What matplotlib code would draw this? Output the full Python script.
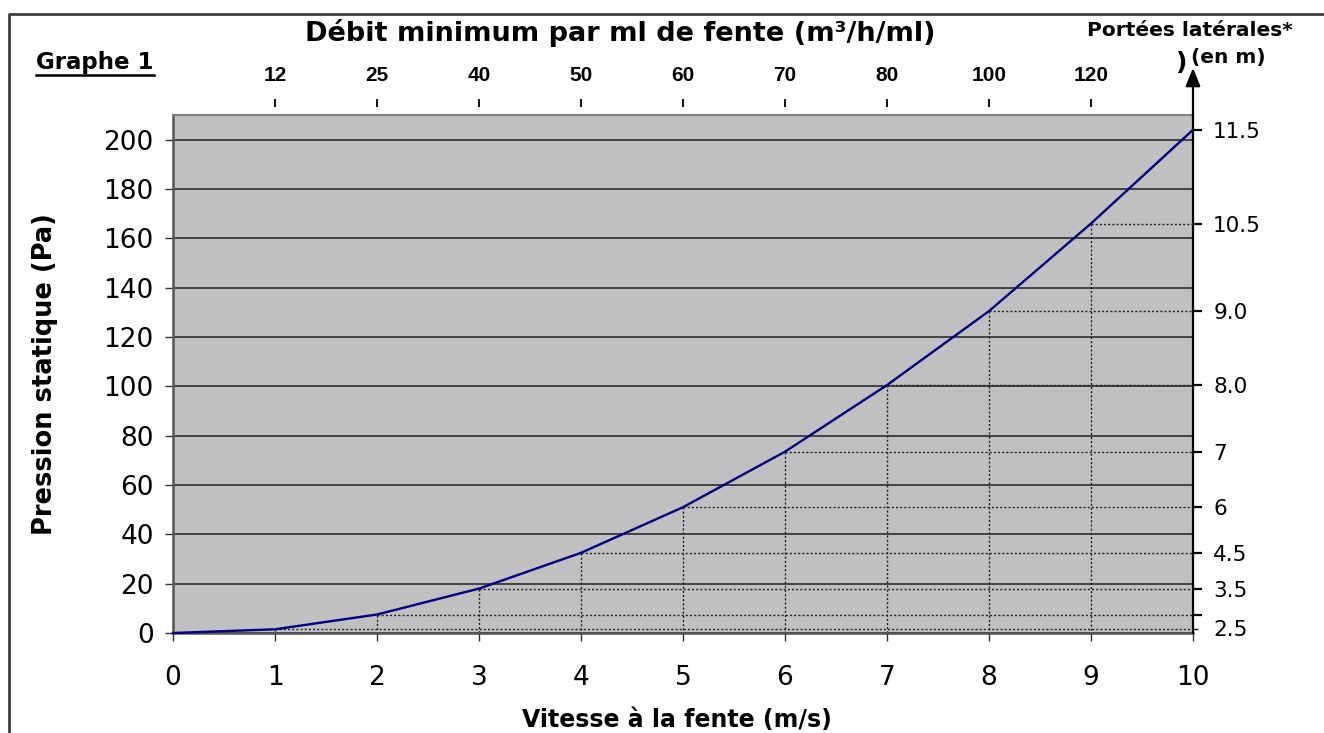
import matplotlib
matplotlib.use("Agg")
import matplotlib.pyplot as plt
from matplotlib.lines import Line2D
import matplotlib.transforms as mtransforms

# ---- data ----
vitesse = [0, 1, 2, 3, 4, 5, 6, 7, 8, 9, 10]                 # m/s
pression = [0, 1.5, 7.5, 18, 32.5, 51, 73.5, 100.5, 130.5, 166, 204]  # Pa
debit_labels = ["12", "25", "40", "50", "60", "70", "80", "100", "120"]  # at v = 1..9
portee_labels = ["2.5", "3.5", "4.5", "6", "7", "8.0", "9.0", "10.5", "11.5"]  # at v = 2..10
y_ticks = [0, 20, 40, 60, 80, 100, 120, 140, 160, 180, 200]

W, H, DPI = 1324, 733, 100
fig = plt.figure(figsize=(W / DPI, H / DPI), dpi=DPI)
fig.patch.set_facecolor("white")

def px(x, y):
    return x / W, 1 - y / H

L, R, T, B = 173, 1193, 115, 633
ax = fig.add_axes([L / W, 1 - B / H, (R - L) / W, (B - T) / H])
ax.set_facecolor("#C0C0C0")
ax.set_xlim(0, 10)
ax.set_ylim(0, 210)

# gridlines
ax.set_yticks(y_ticks)
ax.yaxis.grid(True, color="#202020", lw=1.1)
ax.set_axisbelow(True)
ax.set_xticks(vitesse)

for s in ["left", "bottom"]:
    ax.spines[s].set_color("#555555")
    ax.spines[s].set_linewidth(1.8)
ax.spines["top"].set_color("#808080")
ax.spines["top"].set_linewidth(1.5)
ax.spines["right"].set_visible(False)

ax.tick_params(axis="both", direction="out", length=5.8, width=1.0, color="#333333",
               labelsize=19)
ax.tick_params(axis="y", pad=8)
ax.tick_params(axis="x", pad=17)

# dotted guide lines
for v, p in zip(vitesse[1:10], pression[1:10]):
    ax.plot([v, vitesse[-1]], [p, p], color="#222222", lw=1.0, ls=(0, (1.5, 1.5)), zorder=2)
    ax.plot([v, v], [p, 0], color="#222222", lw=1.0, ls=(0, (1.5, 1.5)), zorder=2)

# main curve
ax.plot(vitesse, pression, color="#000080", lw=1.7, zorder=4, clip_on=False)

# top axis (débit)
axt = ax.twiny()
axt.set_xlim(ax.get_xlim())
axt.set_xticks(vitesse[1:10])
axt.set_xticklabels(debit_labels)
axt.spines["top"].set_position(("outward", 6))
for s in axt.spines.values():
    s.set_visible(False)
axt.tick_params(axis="x", direction="out", length=5.5, width=1.3, color="black", pad=10,
                labelsize=15)
for lbl in axt.get_xticklabels():
    lbl.set_fontfamily("Liberation Sans")
    lbl.set_fontweight("bold")

# right axis (portées)
axr = ax.twinx()
axr.set_ylim(ax.get_ylim())
for s in ["left", "top", "bottom"]:
    axr.spines[s].set_visible(False)
axr.spines["right"].set_color("black")
axr.spines["right"].set_linewidth(1.6)
axr.set_yticks(pression[2:11])
axr.set_yticklabels(portee_labels)
axr.set_yticks([pression[1]], minor=True)
axr.tick_params(axis="y", which="major", direction="out", length=6.5, width=1.6,
                color="black", pad=8, labelsize=15.5)
axr.tick_params(axis="y", which="minor", direction="out", length=3.5, width=1.0, color="black")
# shift the lowest label slightly down (as in the reference)
lab0 = axr.get_yticklabels()[0]
lab0.set_transform(lab0.get_transform() + mtransforms.ScaledTranslation(0, -10 / 72, fig.dpi_scale_trans))

# arrow on the right axis
ax.annotate("", xy=(1, 1 + (T - 68) / (B - T)), xytext=(1, 1), xycoords="axes fraction",
            arrowprops=dict(arrowstyle="-|>,head_length=1.1,head_width=0.45", color="black", lw=1.6,
                            shrinkA=0, shrinkB=0), annotation_clip=False)

# titles
fig.text(*px(620, 33), "Débit minimum par ml de fente (m³/h/ml)", ha="center", va="center",
         fontsize=19.5, fontweight="bold")
fig.text(*px(677, 720), "Vitesse à la fente (m/s)", ha="center", va="center",
         fontsize=17, fontweight="bold")
fig.text(*px(45, 374), "Pression statique (Pa)", ha="center", va="center", rotation=90,
         fontsize=18.5, fontweight="bold")
fig.text(*px(1190, 30), "Portées latérales*", ha="center", va="center", fontsize=14.5, fontweight="bold")
fig.text(*px(1191, 58), "(en m)", ha="left", va="center", fontsize=14.5, fontweight="bold")
fig.text(*px(1182, 63), ")", ha="center", va="center", fontsize=18, fontweight="bold")
g = fig.text(*px(36, 62), "Graphe 1", ha="left", va="center", fontsize=16.5, fontweight="bold")

# frame
fig.add_artist(Line2D([9 / W, 9 / W, 1], [0, 1 - 14 / H, 1 - 14 / H], color="#404040", lw=2,
                      transform=fig.transFigure))

fig.canvas.draw()
bb = g.get_window_extent()
fig.add_artist(Line2D([bb.x0 / W, bb.x1 / W], [(bb.y0 - 1) / H, (bb.y0 - 1) / H],
                      color="black", lw=1.8, transform=fig.transFigure))

fig.savefig("out.png", dpi=DPI)
